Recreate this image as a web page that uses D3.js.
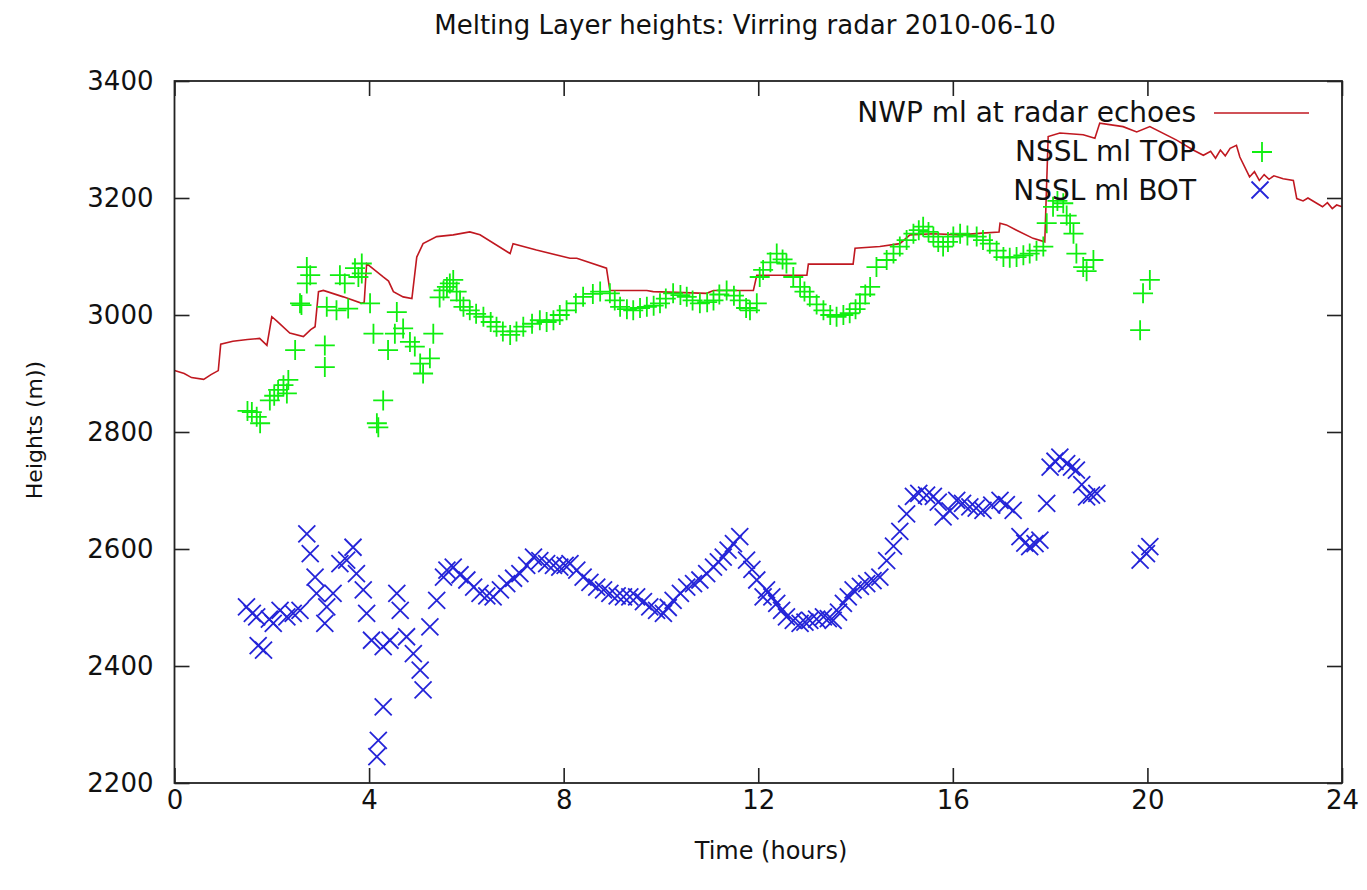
<!DOCTYPE html>
<html>
<head>
<meta charset="utf-8">
<script src="https://cdn.jsdelivr.net/npm/d3@7"></script>
<style>
  body { margin: 0; background: #fff; }
  text { font-family: "DejaVu Sans", sans-serif; fill: #111; }
</style>
</head>
<body>
<div id="grafico"></div>
<script>
// Datos: [hora, altura (m)]
var nwpLine = [[0,2905],[0.2,2900],[0.35,2893],[0.6,2890],[0.75,2898],[0.9,2905],[0.95,2950],[1.2,2955],[1.5,2958],[1.75,2960],[1.9,2948],[2.0,2997],[2.1,2990],[2.37,2969],[2.65,2963],[2.8,2975],[2.89,2980],[2.96,3040],[3.06,3042],[3.47,3031],[3.85,3020],[3.9,3022],[3.95,3088],[4.29,3065],[4.4,3058],[4.5,3040],[4.7,3031],[4.88,3028],[4.98,3099],[5.11,3122],[5.39,3134],[5.73,3137],[6.07,3142],[6.28,3137],[6.9,3105],[6.96,3122],[7.44,3111],[8.13,3097],[8.27,3097],[8.88,3080],[8.95,3042],[9.71,3042],[9.84,3040],[10.94,3037],[11.08,3042],[11.9,3042],[11.97,3068],[13.0,3068],[13.03,3087],[13.95,3087],[13.99,3114],[14.5,3117],[14.91,3122],[15.12,3137],[15.6,3139],[16.15,3137],[16.6,3140],[16.95,3142],[16.97,3157],[17.1,3154],[17.31,3145],[17.65,3131],[17.89,3125],[17.96,3305],[18.2,3311],[18.68,3308],[18.92,3302],[19.02,3328],[19.5,3322],[19.78,3313],[20.05,3322],[20.6,3299],[20.94,3282],[21.15,3273],[21.3,3280],[21.4,3268],[21.5,3282],[21.6,3272],[21.7,3285],[21.83,3290],[21.9,3270],[22.1,3236],[22.2,3245],[22.3,3230],[22.4,3240],[22.5,3232],[22.6,3238],[22.79,3233],[23.0,3230],[23.07,3199],[23.2,3195],[23.3,3200],[23.48,3191],[23.6,3185],[23.7,3192],[23.8,3182],[23.89,3188],[24,3185]];

var topPoints = [[1.5,2836],[1.59,2834],[1.69,2826],[1.76,2815],[1.96,2854],[2.05,2862],[2.13,2872],[2.24,2880],[2.31,2866],[2.34,2889],[2.48,2940],[2.58,3020],[2.61,3017],[2.72,3054],[2.72,3082],[2.79,3068],[3.09,2948],[3.09,2911],[3.13,3014],[3.33,3008],[3.4,3068],[3.5,3054],[3.57,3011],[3.71,3080],[3.78,3065],[3.85,3071],[3.85,3088],[4.02,3020],[4.09,2968],[4.16,2815],[4.19,2808],[4.29,2854],[4.39,2940],[4.53,2968],[4.57,3005],[4.7,2977],[4.84,2954],[4.94,2946],[5.05,2917],[5.11,2900],[5.25,2926],[5.32,2968],[5.45,3030],[5.53,3042],[5.6,3048],[5.66,3054],[5.73,3060],[5.8,3040],[5.87,3025],[5.94,3014],[6.07,3008],[6.2,3002],[6.35,2997],[6.5,2988],[6.62,2980],[6.75,2972],[6.9,2966],[7.03,2972],[7.17,2980],[7.35,2985],[7.51,2991],[7.65,2988],[7.79,2991],[7.92,3000],[8.06,3008],[8.25,3020],[8.4,3031],[8.6,3036],[8.75,3040],[8.95,3037],[9.05,3025],[9.16,3014],[9.3,3010],[9.43,3008],[9.57,3012],[9.71,3014],[9.85,3016],[9.98,3020],[10.1,3028],[10.25,3037],[10.4,3034],[10.53,3031],[10.65,3025],[10.8,3020],[10.95,3022],[11.08,3025],[11.2,3035],[11.35,3042],[11.5,3033],[11.62,3025],[11.75,3012],[11.83,3008],[11.97,3020],[12.03,3065],[12.1,3077],[12.25,3090],[12.38,3105],[12.5,3095],[12.58,3088],[12.72,3065],[12.86,3048],[12.95,3040],[13.06,3031],[13.2,3018],[13.34,3008],[13.48,3000],[13.61,2997],[13.75,3000],[13.88,3003],[14.0,3010],[14.09,3020],[14.2,3035],[14.3,3048],[14.43,3082],[14.64,3094],[14.78,3105],[14.91,3117],[15.05,3128],[15.19,3139],[15.3,3145],[15.39,3151],[15.5,3142],[15.6,3134],[15.7,3125],[15.8,3117],[15.9,3125],[16.01,3134],[16.15,3139],[16.3,3136],[16.49,3134],[16.62,3128],[16.76,3122],[16.9,3110],[17.04,3099],[17.17,3098],[17.31,3099],[17.45,3102],[17.58,3105],[17.72,3110],[17.86,3117],[17.93,3157],[18.06,3185],[18.15,3195],[18.27,3191],[18.34,3170],[18.41,3157],[18.48,3139],[18.54,3105],[18.68,3082],[18.75,3075],[18.89,3094],[19.85,2974],[19.91,3037],[20.05,3060]];

var botPoints = [[1.48,2501],[1.6,2490],[1.69,2484],[1.72,2435],[1.83,2427],[1.95,2480],[2.03,2473],[2.17,2495],[2.31,2484],[2.44,2490],[2.58,2495],[2.72,2626],[2.79,2592],[2.89,2552],[2.92,2524],[3.09,2473],[3.13,2501],[3.26,2524],[3.4,2575],[3.54,2581],[3.67,2603],[3.74,2558],[3.88,2530],[3.95,2490],[4.05,2444],[4.16,2245],[4.19,2273],[4.29,2330],[4.29,2433],[4.43,2444],[4.57,2524],[4.64,2495],[4.77,2450],[4.91,2421],[5.05,2393],[5.11,2359],[5.25,2467],[5.39,2512],[5.53,2552],[5.6,2564],[5.73,2569],[5.87,2556],[6.01,2547],[6.15,2535],[6.28,2524],[6.42,2520],[6.55,2518],[6.7,2530],[6.83,2541],[6.97,2550],[7.1,2558],[7.24,2572],[7.38,2586],[7.51,2580],[7.65,2575],[7.79,2572],[7.92,2569],[8.03,2572],[8.13,2575],[8.27,2564],[8.4,2552],[8.54,2543],[8.68,2535],[8.82,2530],[8.95,2524],[9.1,2520],[9.23,2518],[9.36,2518],[9.5,2518],[9.64,2510],[9.77,2501],[9.91,2495],[10.05,2490],[10.15,2500],[10.25,2512],[10.4,2524],[10.53,2535],[10.67,2541],[10.8,2547],[10.94,2558],[11.08,2569],[11.18,2578],[11.28,2586],[11.38,2598],[11.49,2609],[11.62,2621],[11.76,2581],[11.87,2565],[11.97,2547],[12.1,2518],[12.17,2530],[12.28,2518],[12.38,2507],[12.48,2495],[12.58,2484],[12.72,2478],[12.86,2473],[12.96,2475],[13.06,2478],[13.2,2480],[13.34,2484],[13.44,2481],[13.54,2478],[13.65,2492],[13.75,2507],[13.85,2518],[13.95,2530],[14.1,2536],[14.23,2541],[14.36,2546],[14.5,2552],[14.64,2580],[14.78,2605],[14.91,2630],[15.05,2660],[15.19,2690],[15.3,2695],[15.46,2692],[15.6,2690],[15.7,2680],[15.8,2655],[15.94,2665],[16.08,2683],[16.2,2678],[16.35,2672],[16.48,2670],[16.62,2666],[16.8,2675],[16.97,2683],[17.1,2676],[17.24,2666],[17.38,2621],[17.48,2610],[17.58,2604],[17.69,2609],[17.79,2615],[17.93,2678],[18.0,2740],[18.1,2750],[18.2,2757],[18.34,2746],[18.44,2740],[18.54,2735],[18.65,2710],[18.75,2689],[18.85,2692],[18.96,2695],[19.85,2581],[19.98,2592],[20.05,2604]];

var xTicks = [0, 4, 8, 12, 16, 20, 24];
var yTicks = [2200, 2400, 2600, 2800, 3000, 3200, 3400];

var seriesNames = ["NWP ml at radar echoes", "NSSL ml TOP", "NSSL ml BOT"];

// Margenes
var margin = {top: 81, right: 25, bottom: 107, left: 174.5},
width = 1367 - margin.left - margin.right,
height = 890 - margin.top - margin.bottom;

var svg = d3.select("#grafico")
   .append("svg")
      .attr("width", 1367)
      .attr("height", 890);

var g = svg.append("g")
   .attr("transform", "translate(" + margin.left + "," + margin.top + ")");

var x = d3.scaleLinear().domain([0, 24]).range([0, width]);
var y = d3.scaleLinear().domain([2200, 3400]).range([height, 0]);

var colRed = "#c01820", colGreen = "#10ee10", colBlue = "#2424d8";
var plusPath = "M-10,0H10M0,-10V10";
var crossPath = "M-8.5,-8.5L8.5,8.5M-8.5,8.5L8.5,-8.5";

// Ejes (ticks hacia dentro, en los cuatro lados)
function styleAxis(sel) {
   sel.select(".domain").remove();
   sel.selectAll(".tick line").attr("stroke", "#222").attr("stroke-width", 1.6);
   sel.selectAll(".tick text").style("font-size", "26px").style("font-family", "DejaVu Sans").attr("fill", "#111");
}

g.append("g")
   .attr("transform", "translate(0," + height + ")")
   .call(d3.axisBottom(x).tickValues(xTicks).tickSizeInner(-15).tickSizeOuter(0).tickPadding(8))
   .call(styleAxis);

g.append("g")
   .call(d3.axisTop(x).tickValues(xTicks).tickSizeInner(-15).tickSizeOuter(0).tickFormat(""))
   .call(styleAxis);

g.append("g")
   .call(d3.axisLeft(y).tickValues(yTicks).tickSizeInner(-15).tickSizeOuter(0).tickPadding(21).tickFormat(d3.format("d")))
   .call(styleAxis);

g.append("g")
   .attr("transform", "translate(" + width + ",0)")
   .call(d3.axisRight(y).tickValues(yTicks).tickSizeInner(-15).tickSizeOuter(0).tickFormat(""))
   .call(styleAxis);

// Linea NWP
var linea = d3.line()
   .x(function(d) { return x(d[0]); })
   .y(function(d) { return y(d[1]); });

g.append("path")
   .datum(nwpLine)
   .attr("fill", "none")
   .attr("stroke", colRed)
   .attr("stroke-width", 1.6)
   .attr("d", linea);

// Puntos TOP
g.append("g")
   .selectAll("path")
   .data(topPoints)
   .enter()
   .append("path")
   .attr("transform", function(d) { return "translate(" + x(d[0]) + "," + y(d[1]) + ")"; })
   .attr("d", plusPath)
   .attr("stroke", colGreen)
   .attr("stroke-width", 1.8)
   .attr("fill", "none");

// Puntos BOT
g.append("g")
   .selectAll("path")
   .data(botPoints)
   .enter()
   .append("path")
   .attr("transform", function(d) { return "translate(" + x(d[0]) + "," + y(d[1]) + ")"; })
   .attr("d", crossPath)
   .attr("stroke", colBlue)
   .attr("stroke-width", 1.8)
   .attr("fill", "none");

// Marco
g.append("rect")
   .attr("width", width)
   .attr("height", height)
   .attr("fill", "none")
   .attr("stroke", "#222")
   .attr("stroke-width", 1.8);

// Leyenda
var legend = g.append("g").attr("transform", "translate(" + (1196 - margin.left) + "," + (112 - margin.top) + ")");
seriesNames.forEach(function(name, i) {
   legend.append("text")
      .attr("x", 0)
      .attr("y", i * 39)
      .attr("dy", "0.35em")
      .attr("text-anchor", "end")
      .style("font-size", "28px")
      .text(name);
});
legend.append("line")
   .attr("x1", 18).attr("x2", 113).attr("y1", 1).attr("y2", 1)
   .attr("stroke", colRed).attr("stroke-width", 1.6);
legend.append("path")
   .attr("transform", "translate(66,40)")
   .attr("d", plusPath).attr("stroke", colGreen).attr("stroke-width", 1.8);
legend.append("path")
   .attr("transform", "translate(64,78)")
   .attr("d", crossPath).attr("stroke", colBlue).attr("stroke-width", 1.8);

// Titulos
svg.append("text")
   .attr("x", 745)
   .attr("y", 34)
   .attr("text-anchor", "middle")
   .style("font-size", "26px")
   .text("Melting Layer heights: Virring radar 2010-06-10");

svg.append("text")
   .attr("x", 771)
   .attr("y", 859)
   .attr("text-anchor", "middle")
   .style("font-size", "24px")
   .text("Time (hours)");

svg.append("text")
   .attr("transform", "translate(42,430) rotate(-90)")
   .attr("text-anchor", "middle")
   .style("font-size", "22px")
   .text("Heights (m))");
</script>
</body>
</html>
